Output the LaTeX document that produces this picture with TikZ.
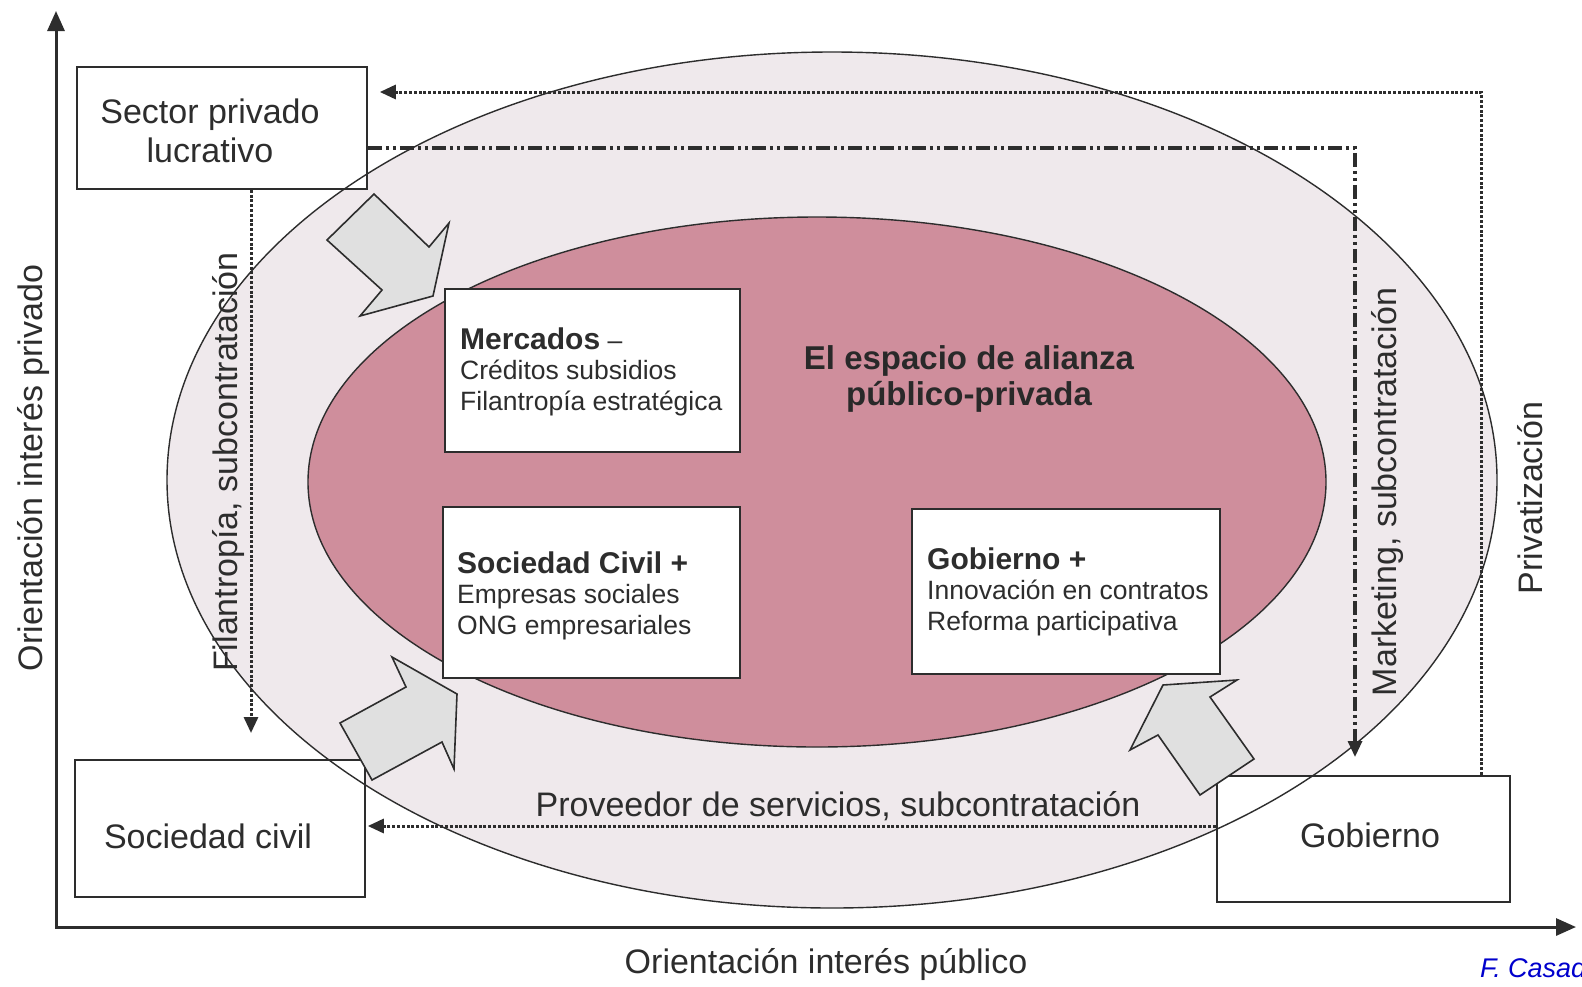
\documentclass[tikz,border=0pt]{standalone}
\usepackage{fontspec}
\setmainfont{Liberation Sans}
\usetikzlibrary{arrows.meta}
\definecolor{outerfill}{RGB}{239,233,236}
\definecolor{innerfill}{RGB}{207,142,156}
\definecolor{blockfill}{RGB}{224,224,224}
\definecolor{ink}{RGB}{45,45,45}
\definecolor{credit}{RGB}{0,0,205}
\tikzset{
  box/.style={draw=ink, line width=1.8pt, fill=white, anchor=north west, inner sep=0pt},
  biglabel/.style={font=\fontsize{34}{39}\selectfont, text=ink, inner sep=0pt},
  boxtext/.style={font=\fontsize{26.5}{30.5}\selectfont, text=ink, inner sep=0pt, align=left, anchor=base west},
  centertext/.style={font=\fontsize{33}{36}\selectfont\bfseries, text=ink!90!black, inner sep=0pt, align=center, anchor=base},
  dotline/.style={draw=ink, line width=3pt, dash pattern=on 3pt off 1.8pt},
  dashdotline/.style={draw=ink, line width=3.2pt, dash pattern=on 14pt off 4pt on 3pt off 4pt on 3pt off 4pt},
  tip/.style={-{Triangle[length=16pt,width=14pt]}},
  axis/.style={draw=ink, line width=3pt, line join=miter, {Triangle[length=20pt,width=17pt]}-{Triangle[length=20pt,width=17pt]}},
  blockarrow/.style={fill=blockfill, draw=ink, line width=1.6pt, line join=miter},
  ellipseline/.style={draw=ink, line width=1.4pt},
}
\begin{document}
\begin{tikzpicture}[x=1pt,y=-1pt]
\clip (0,0) rectangle (1582,986);
\fill[white] (0,0) rectangle (1582,986);

% ellipses
\fill[outerfill] (832,480) ellipse [x radius=665pt, y radius=428pt];
\filldraw[fill=innerfill, ellipseline] (817,482) ellipse [x radius=509pt, y radius=265pt];

% actor boxes
\node[box, minimum width=290pt, minimum height=122pt] (spl) at (76,66) {};
\node[box, minimum width=290pt, minimum height=137pt] (soc) at (74,759) {};
\node[box, minimum width=293pt, minimum height=126pt] (gob) at (1216,775) {};

% outer ellipse outline over the boxes
\draw[ellipseline] (832,480) ellipse [x radius=665pt, y radius=428pt];

% inner boxes
\node[box, minimum width=295pt, minimum height=163pt] (mer) at (444,288) {};
\node[box, minimum width=297pt, minimum height=171pt] (scp) at (442,506) {};
\node[box, minimum width=308pt, minimum height=165pt] (gbp) at (911,508) {};

% axes
\coordinate (origin) at (56,927);
\coordinate (yend) at (56,11);
\coordinate (xend) at (1576,927);
\draw[axis] (yend) -- (origin) -- (xend);

% connectors
\coordinate (c1) at (1481,92);
\draw[dotline, tip] (gob.north -| c1) -- (c1) -- ([xshift=12pt]spl.east |- c1);
\coordinate (c2) at (1355,148);
\draw[dashdotline, tip] (spl.east |- c2) -- (c2) -- ([yshift=18pt]gob.north -| c2);
\coordinate (c3) at (251,300);
\draw[dotline, tip] (spl.south -| c3) -- ([yshift=26pt]soc.north -| c3);
\coordinate (c4) at (800,826);
\draw[dotline, tip] (gob.west |- c4) -- ([xshift=2pt]soc.east |- c4);

% block arrows
\draw[blockarrow] (327,240) -- (374,194) -- (429,247) -- (449,223) -- (433,296) -- (360,316) -- (382,290) -- cycle;
\draw[blockarrow] (340,723) -- (406,687) -- (392,657) -- (457,694) -- (454,769) -- (442,742) -- (372,780) -- cycle;
\draw[blockarrow] (1130,750) -- (1163,685) -- (1237,680) -- (1210,697) -- (1254,759) -- (1200,795) -- (1158,735) -- cycle;

% texts
\node[biglabel, align=center, anchor=base] (spltext) at (210,162) {Sector privado\\lucrativo};
\node[biglabel, anchor=base] (soctext) at (208,848) {Sociedad civil};
\node[biglabel, anchor=base] (gobtext) at (1370,847) {Gobierno};

\node[boxtext] (mertext) at (460,410) {{\fontsize{30}{30.5}\selectfont\bfseries Mercados} --\\Créditos subsidios\\Filantropía estratégica};
\node[boxtext] (scptext) at (457,634) {{\fontsize{30}{30.5}\selectfont\bfseries Sociedad Civil +}\\Empresas sociales\\ONG empresariales};
\node[boxtext] (gbptext) at (927,630) {{\fontsize{30}{30.5}\selectfont\bfseries Gobierno +}\\Innovación en contratos\\Reforma participativa};

\node[centertext] (alianza) at (969,405) {El espacio de alianza\\público-privada};

\node[biglabel, anchor=base] (proveedor) at (838,816) {Proveedor de servicios, subcontratación};
\node[biglabel, anchor=base] (xlabel) at (826,973) {Orientación interés público};
\node[biglabel, anchor=base, rotate=90] (ylabel) at (42,468) {Orientación interés privado};
\node[biglabel, anchor=base, rotate=90] (filan) at (237,462) {Filantropía, subcontratación};
\node[biglabel, anchor=base, rotate=90] (market) at (1396,492) {Marketing, subcontratación};
\node[biglabel, anchor=base, rotate=90] (priv) at (1542,498) {Privatización};

\node[font=\fontsize{27}{30}\selectfont\itshape, text=credit, anchor=base west, inner sep=0pt] (credittext) at (1480,977) {F. Casado};
\end{tikzpicture}
\end{document}
